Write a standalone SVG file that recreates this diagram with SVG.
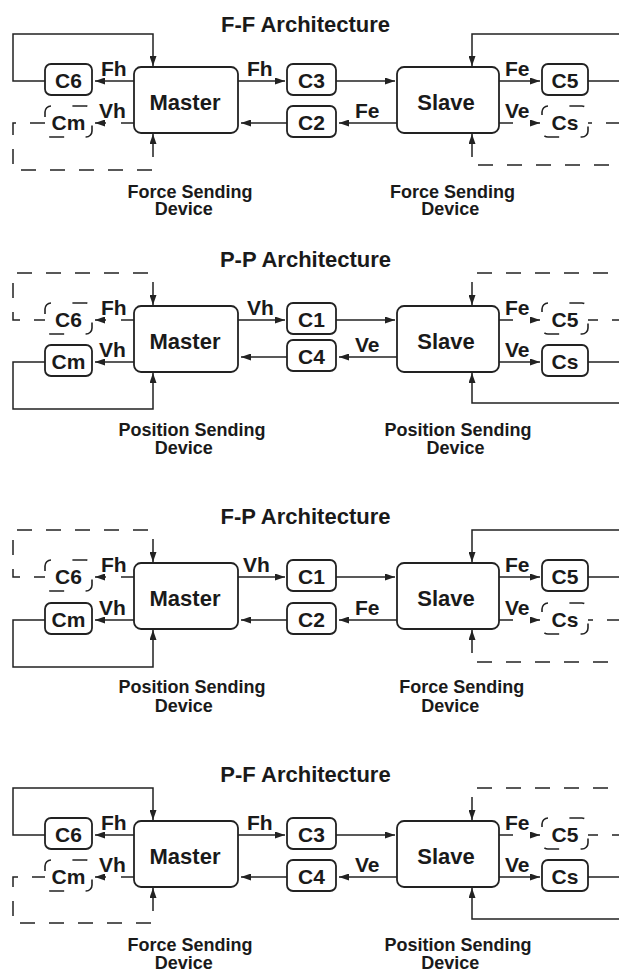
<svg xmlns="http://www.w3.org/2000/svg" width="619" height="972" viewBox="0 0 619 972">
<defs>
<style>
.bg{fill:#fff}
.box{fill:#fff;stroke:#222;stroke-width:1.8}
.dbox{fill:none;stroke:#222;stroke-width:1.6;stroke-dasharray:15 21.4;stroke-dashoffset:15}
.ln{fill:none;stroke:#222;stroke-width:1.5}
.dl{fill:none;stroke:#222;stroke-width:1.5;stroke-dasharray:23 14 15 14 15 14 15 14 15 14 15 14 15 14 15 14 15 14 15 14 15 14 15 14}
.t{font-family:"Liberation Sans",Arial,Helvetica,sans-serif;font-weight:bold;fill:#1a1a1a}
.title{font-size:22px;text-anchor:middle}
.big{font-size:22px;text-anchor:middle}
.c{font-size:21px;text-anchor:middle}
.sig{font-size:21px}
.dev{font-size:18px;text-anchor:middle}
</style>
<marker id="ah" viewBox="0 0 10 7" refX="10" refY="3.5" markerWidth="10" markerHeight="7" markerUnits="userSpaceOnUse" orient="auto-start-reverse">
<path d="M0,0 L10,3.5 L0,7 z" fill="#222"/>
</marker>
</defs>
<rect class="bg" x="0" y="0" width="619" height="972"/>

<!-- ================= Panel 1: F-F ================= -->
<g id="ff">
<text id="ff-title" class="t title" x="305.5" y="31.5">F-F Architecture</text>
<g id="ff-master"><rect class="box" x="134" y="67" width="104" height="66" rx="7"/><text class="t big" x="185" y="110">Master</text></g>
<g id="ff-slave"><rect class="box" x="397" y="67" width="102" height="66" rx="7"/><text class="t big" x="446" y="110">Slave</text></g>
<g id="ff-c6"><rect class="box" x="45" y="64" width="47" height="31" rx="6"/><text class="t c" x="68.5" y="88">C6</text></g>
<g id="ff-cm"><rect class="dbox" x="45" y="106" width="47" height="31" rx="6"/><text class="t c" x="68.5" y="130">Cm</text></g>
<g id="ff-c3"><rect class="box" x="287" y="64" width="49" height="31" rx="6"/><text class="t c" x="311.5" y="88">C3</text></g>
<g id="ff-c2"><rect class="box" x="287" y="106" width="49" height="31" rx="6"/><text class="t c" x="311.5" y="130">C2</text></g>
<g id="ff-c5"><rect class="box" x="542" y="64" width="46" height="31" rx="6"/><text class="t c" x="565" y="88">C5</text></g>
<g id="ff-cs"><rect class="dbox" x="542" y="106" width="46" height="31" rx="6"/><text class="t c" x="565" y="130">Cs</text></g>
<g id="ff-dev-m"><text class="t dev" x="190" y="198">Force Sending</text><text class="t dev" x="183.7" y="215">Device</text></g>
<g id="ff-dev-s"><text class="t dev" x="452.5" y="198">Force Sending</text><text class="t dev" x="450.3" y="215">Device</text></g>
<g id="ff-connectors">
<path class="ln" d="M134,81 H95" marker-end="url(#ah)"/>
<path class="ln" d="M134,123 H121"/><path class="ln" d="M106,123 H95" marker-end="url(#ah)"/>
<path class="ln" d="M45,81 H13 V34 H153 V66" marker-end="url(#ah)"/>
<path class="dl" d="M153,134 V170 H13 V123 H45" marker-start="url(#ah)"/>
<path class="ln" d="M238,81 H285" marker-end="url(#ah)"/>
<path class="ln" d="M336,81 H395" marker-end="url(#ah)"/>
<path class="ln" d="M397,123 H339" marker-end="url(#ah)"/>
<path class="ln" d="M287,123 H241" marker-end="url(#ah)"/>
<path class="ln" d="M499,81 H540" marker-end="url(#ah)"/>
<path class="ln" d="M499,123 H513"/><path class="ln" d="M530,123 H540" marker-end="url(#ah)"/>
<path class="ln" d="M588,81 H630 V34 H472 V66" marker-end="url(#ah)"/>
<path class="dl" d="M472,134 V165 H630 V123 H588" marker-start="url(#ah)"/>
<text class="t sig" x="101" y="76">Fh</text>
<text class="t sig" x="99" y="118">Vh</text>
<text class="t sig" x="247" y="76">Fh</text>
<text class="t sig" x="355" y="118">Fe</text>
<text class="t sig" x="505" y="76">Fe</text>
<text class="t sig" x="505" y="118">Ve</text>
</g>
</g>

<!-- ================= Panel 2: P-P ================= -->
<g id="pp">
<text id="pp-title" class="t title" x="305.5" y="267">P-P Architecture</text>
<g id="pp-master"><rect class="box" x="134" y="306" width="104" height="66" rx="7"/><text class="t big" x="185" y="349">Master</text></g>
<g id="pp-slave"><rect class="box" x="397" y="306" width="102" height="66" rx="7"/><text class="t big" x="446" y="349">Slave</text></g>
<g id="pp-c6"><rect class="dbox" x="45" y="303" width="47" height="31" rx="6"/><text class="t c" x="68.5" y="327">C6</text></g>
<g id="pp-cm"><rect class="box" x="45" y="345" width="47" height="31" rx="6"/><text class="t c" x="68.5" y="369">Cm</text></g>
<g id="pp-c1"><rect class="box" x="287" y="303" width="49" height="31" rx="6"/><text class="t c" x="311.5" y="327">C1</text></g>
<g id="pp-c4"><rect class="box" x="287" y="340" width="49" height="31" rx="6"/><text class="t c" x="311.5" y="364">C4</text></g>
<g id="pp-c5"><rect class="dbox" x="542" y="303" width="46" height="31" rx="6"/><text class="t c" x="565" y="327">C5</text></g>
<g id="pp-cs"><rect class="box" x="542" y="345" width="46" height="31" rx="6"/><text class="t c" x="565" y="369">Cs</text></g>
<g id="pp-dev-m"><text class="t dev" x="192" y="436">Position Sending</text><text class="t dev" x="183.7" y="454">Device</text></g>
<g id="pp-dev-s"><text class="t dev" x="458" y="436">Position Sending</text><text class="t dev" x="455.5" y="454">Device</text></g>
<g id="pp-connectors">
<path class="ln" d="M134,320 H121"/><path class="ln" d="M106,320 H95" marker-end="url(#ah)"/>
<path class="ln" d="M134,362 H95" marker-end="url(#ah)"/>
<path class="dl" d="M153,305 V273 H13 V320 H45" marker-start="url(#ah)"/>
<path class="ln" d="M45,362 H13 V409 H153 V373" marker-end="url(#ah)"/>
<path class="ln" d="M238,320 H285" marker-end="url(#ah)"/>
<path class="ln" d="M336,320 H395" marker-end="url(#ah)"/>
<path class="ln" d="M397,357 H339" marker-end="url(#ah)"/>
<path class="ln" d="M287,357 H241" marker-end="url(#ah)"/>
<path class="ln" d="M499,320 H513"/><path class="ln" d="M530,320 H540" marker-end="url(#ah)"/>
<path class="ln" d="M499,362 H540" marker-end="url(#ah)"/>
<path class="dl" d="M472,305 V273 H630 V320 H588" marker-start="url(#ah)"/>
<path class="ln" d="M588,362 H630 V403 H472 V373" marker-end="url(#ah)"/>
<text class="t sig" x="101" y="315">Fh</text>
<text class="t sig" x="99" y="357">Vh</text>
<text class="t sig" x="247" y="315">Vh</text>
<text class="t sig" x="355" y="352">Ve</text>
<text class="t sig" x="505" y="315">Fe</text>
<text class="t sig" x="505" y="357">Ve</text>
</g>
</g>

<!-- ================= Panel 3: F-P ================= -->
<g id="fp">
<text id="fp-title" class="t title" x="305.5" y="524">F-P Architecture</text>
<g id="fp-master"><rect class="box" x="134" y="563" width="104" height="66" rx="7"/><text class="t big" x="185" y="606">Master</text></g>
<g id="fp-slave"><rect class="box" x="397" y="563" width="102" height="66" rx="7"/><text class="t big" x="446" y="606">Slave</text></g>
<g id="fp-c6"><rect class="dbox" x="45" y="560" width="47" height="31" rx="6"/><text class="t c" x="68.5" y="584">C6</text></g>
<g id="fp-cm"><rect class="box" x="45" y="603" width="47" height="31" rx="6"/><text class="t c" x="68.5" y="627">Cm</text></g>
<g id="fp-c1"><rect class="box" x="287" y="560" width="49" height="31" rx="6"/><text class="t c" x="311.5" y="584">C1</text></g>
<g id="fp-c2"><rect class="box" x="287" y="603" width="49" height="31" rx="6"/><text class="t c" x="311.5" y="627">C2</text></g>
<g id="fp-c5"><rect class="box" x="542" y="560" width="46" height="31" rx="6"/><text class="t c" x="565" y="584">C5</text></g>
<g id="fp-cs"><rect class="dbox" x="542" y="603" width="46" height="31" rx="6"/><text class="t c" x="565" y="627">Cs</text></g>
<g id="fp-dev-m"><text class="t dev" x="192" y="693">Position Sending</text><text class="t dev" x="183.7" y="712">Device</text></g>
<g id="fp-dev-s"><text class="t dev" x="461.7" y="693">Force Sending</text><text class="t dev" x="450.3" y="712">Device</text></g>
<g id="fp-connectors">
<path class="ln" d="M134,577 H121"/><path class="ln" d="M106,577 H95" marker-end="url(#ah)"/>
<path class="ln" d="M134,620 H95" marker-end="url(#ah)"/>
<path class="dl" d="M153,562 V530 H13 V577 H45" marker-start="url(#ah)"/>
<path class="ln" d="M45,620 H13 V667 H153 V630" marker-end="url(#ah)"/>
<path class="ln" d="M238,577 H285" marker-end="url(#ah)"/>
<path class="ln" d="M336,577 H395" marker-end="url(#ah)"/>
<path class="ln" d="M397,620 H339" marker-end="url(#ah)"/>
<path class="ln" d="M287,620 H241" marker-end="url(#ah)"/>
<path class="ln" d="M499,577 H540" marker-end="url(#ah)"/>
<path class="ln" d="M499,620 H513"/><path class="ln" d="M530,620 H540" marker-end="url(#ah)"/>
<path class="ln" d="M588,577 H630 V530 H472 V562" marker-end="url(#ah)"/>
<path class="dl" d="M472,630 V662 H630 V620 H588" marker-start="url(#ah)"/>
<text class="t sig" x="101" y="572">Fh</text>
<text class="t sig" x="99" y="615">Vh</text>
<text class="t sig" x="243" y="572">Vh</text>
<text class="t sig" x="355" y="615">Fe</text>
<text class="t sig" x="505" y="572">Fe</text>
<text class="t sig" x="505" y="615">Ve</text>
</g>
</g>

<!-- ================= Panel 4: P-F ================= -->
<g id="pf">
<text id="pf-title" class="t title" x="305.5" y="782">P-F Architecture</text>
<g id="pf-master"><rect class="box" x="134" y="821" width="104" height="66" rx="7"/><text class="t big" x="185" y="864">Master</text></g>
<g id="pf-slave"><rect class="box" x="397" y="821" width="102" height="66" rx="7"/><text class="t big" x="446" y="864">Slave</text></g>
<g id="pf-c6"><rect class="box" x="45" y="818" width="47" height="31" rx="6"/><text class="t c" x="68.5" y="842">C6</text></g>
<g id="pf-cm"><rect class="dbox" x="45" y="860" width="47" height="31" rx="6"/><text class="t c" x="68.5" y="884">Cm</text></g>
<g id="pf-c3"><rect class="box" x="287" y="818" width="49" height="31" rx="6"/><text class="t c" x="311.5" y="842">C3</text></g>
<g id="pf-c4"><rect class="box" x="287" y="860" width="49" height="31" rx="6"/><text class="t c" x="311.5" y="884">C4</text></g>
<g id="pf-c5"><rect class="dbox" x="542" y="818" width="46" height="31" rx="6"/><text class="t c" x="565" y="842">C5</text></g>
<g id="pf-cs"><rect class="box" x="542" y="860" width="46" height="31" rx="6"/><text class="t c" x="565" y="884">Cs</text></g>
<g id="pf-dev-m"><text class="t dev" x="190" y="951">Force Sending</text><text class="t dev" x="183.7" y="969">Device</text></g>
<g id="pf-dev-s"><text class="t dev" x="458" y="951">Position Sending</text><text class="t dev" x="450.3" y="969">Device</text></g>
<g id="pf-connectors">
<path class="ln" d="M134,835 H95" marker-end="url(#ah)"/>
<path class="ln" d="M134,877 H121"/><path class="ln" d="M106,877 H95" marker-end="url(#ah)"/>
<path class="ln" d="M45,835 H13 V788 H153 V820" marker-end="url(#ah)"/>
<path class="dl" d="M153,888 V923 H13 V877 H45" marker-start="url(#ah)"/>
<path class="ln" d="M238,835 H285" marker-end="url(#ah)"/>
<path class="ln" d="M336,835 H395" marker-end="url(#ah)"/>
<path class="ln" d="M397,877 H339" marker-end="url(#ah)"/>
<path class="ln" d="M287,877 H241" marker-end="url(#ah)"/>
<path class="ln" d="M499,835 H513"/><path class="ln" d="M530,835 H540" marker-end="url(#ah)"/>
<path class="ln" d="M499,877 H540" marker-end="url(#ah)"/>
<path class="dl" d="M472,820 V788 H630 V835 H588" marker-start="url(#ah)"/>
<path class="ln" d="M588,877 H630 V919 H472 V888" marker-end="url(#ah)"/>
<text class="t sig" x="101" y="830">Fh</text>
<text class="t sig" x="99" y="872">Vh</text>
<text class="t sig" x="247" y="830">Fh</text>
<text class="t sig" x="355" y="872">Ve</text>
<text class="t sig" x="505" y="830">Fe</text>
<text class="t sig" x="505" y="872">Ve</text>
</g>
</g>
</svg>
